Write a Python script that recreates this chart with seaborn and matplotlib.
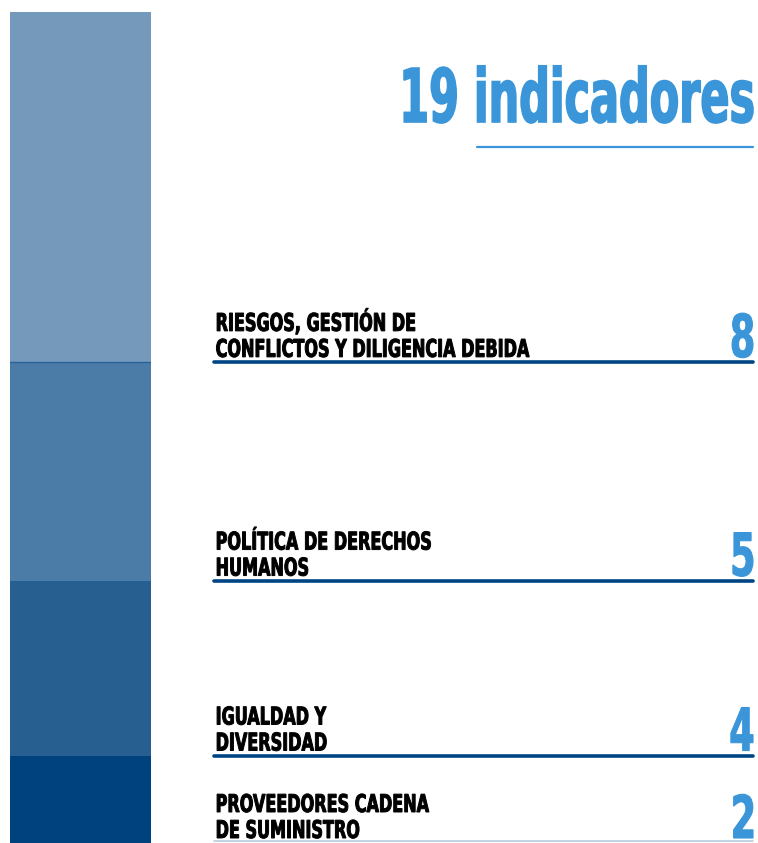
import matplotlib
matplotlib.use("Agg")
import matplotlib.pyplot as plt
import seaborn as sns
from matplotlib.lines import Line2D
from matplotlib.textpath import TextPath
from matplotlib.patches import PathPatch
from matplotlib.font_manager import FontProperties
from matplotlib.transforms import Affine2D, ScaledTranslation

# categories from bottom to top of the stacked column
categories = [
    ["PROVEEDORES CADENA", "DE SUMINISTRO"],
    ["IGUALDAD Y", "DIVERSIDAD"],
    ["POLÍTICA DE DERECHOS", "HUMANOS"],
    ["RIESGOS, GESTIÓN DE", "CONFLICTOS Y DILIGENCIA DEBIDA"],
]
counts = [2, 4, 5, 8]
colors = ["#00427e", "#285f91", "#4b7ca7", "#7499bb"]
title = "19 indicadores"

sns.set_theme(style="white")
plt.rcParams['font.family'] = ['DejaVu Sans']

W, H = 758, 843
fig = plt.figure(figsize=(W / 100, H / 100), dpi=100)
fig.patch.set_facecolor("white")

BOLD = FontProperties(family="DejaVu Sans", weight="bold")


def condensed_text(s, x, y, trans, size, sx, color, ha="left", dy=0, lw=0.6):
    # no condensed font installed, so squeeze the glyph outlines instead
    tp = TextPath((0, 0), s, size=size, prop=BOLD)
    ext = tp.get_extents()
    x0 = -ext.x1 * sx if ha == "right" else 0
    tr = Affine2D().scale(sx, 1).translate(x0, dy) + ScaledTranslation(x, y, trans)
    fig.add_artist(PathPatch(tp, transform=tr, fc=color, ec=color, lw=lw))


total = sum(counts)
tops = [sum(counts[:i + 1]) for i in range(len(counts))]
bottoms = [t - c for t, c in zip(tops, counts)]

# stacked column on the left
ax = fig.add_axes([10 / W, 0, 141 / W, (H - 12) / H])
for t, c in reversed(list(zip(tops, colors))):
    sns.barplot(x=[0], y=[t], color=c, saturation=1, width=1, linewidth=0, ax=ax)
ax.axhline(tops[2], color="#2a6298", lw=1)
ax.set_xlim(-0.5, 0.5)
ax.set_ylim(0, total)
ax.axis("off")

# labels on the right, same vertical scale
ax2 = fig.add_axes([214 / W, 0, (753 - 214) / W, (H - 12) / H])
ax2.set_xlim(0, 1)
ax2.set_ylim(0, total)
ax2.axis("off")
for i, (lines, n, b) in enumerate(zip(categories, counts, bottoms)):
    if i == 0:
        ax2.axhline(b + 0.05, color="#b8cde0", lw=1.2, clip_on=False)
    else:
        ax2.axhline(b, color="#004583", lw=2.6, clip_on=False)
    for k, line in enumerate(reversed(lines)):
        condensed_text(line, 0.003, b, ax2.transData, 24.5, 0.655, "#000000",
                       dy=5 + 26 * k, lw=0.7)
    condensed_text(str(n), 1, b, ax2.transData, 59, 0.62, "#3a96d8",
                   ha="right", dy=5, lw=0.8)

# title and its underline
condensed_text(title, 753 / W, 1 - 122 / H, fig.transFigure, 74, 0.58,
               "#3a96d8", ha="right", lw=1.2)
fig.add_artist(Line2D([477 / W, 753 / W], [1 - 147 / H] * 2,
                      color="#3a96d8", lw=1.6, transform=fig.transFigure))

fig.savefig("out.png", dpi=100)
